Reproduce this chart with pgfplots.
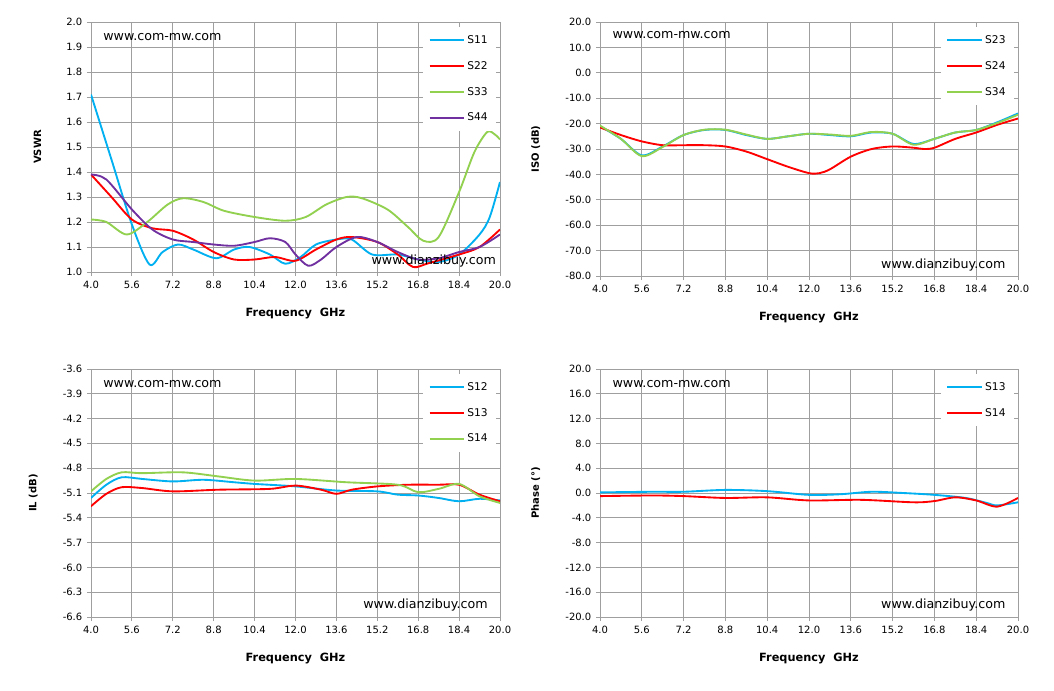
\documentclass[border=0pt]{standalone}
\usepackage{fontspec}
\setmainfont{DejaVu Sans}
\usepackage{pgfplots}
\pgfplotsset{compat=1.18}
\definecolor{cB}{HTML}{00B0F0}
\definecolor{cR}{HTML}{FF0000}
\definecolor{cG}{HTML}{92D050}
\definecolor{cP}{HTML}{7030A0}
\tikzset{wm/.style={font=\fontsize{9.5}{10}\selectfont}}
\pgfplotsset{
 panel/.style={scale only axis, anchor=north west,
  xmin=4,xmax=20, xtick={4,5.6,7.2,8.8,10.4,12,13.6,15.2,16.8,18.4,20},
  grid=major, grid style={gray!75,line width=0.7pt},
  axis line style={gray!75,line width=0.7pt},
  tick style={gray!75,line width=0.7pt}, major tick length=3pt, tick align=outside,
  xtick pos=bottom, ytick pos=left,
  ticklabel style={font=\fontsize{7.5}{8}\selectfont},
  /pgf/number format/assume math mode=true,
  /pgf/number format/.cd, fixed, fixed zerofill, precision=1, /pgfplots/.cd,
  xlabel={\textbf{Frequency\ \ GHz}}, xlabel style={font=\fontsize{8.5}{9}\selectfont, yshift=-8pt},
  ylabel style={font=\bfseries\fontsize{7.5}{8}\selectfont, yshift=12pt},
  legend style={draw=none, fill=white, font=\fontsize{8}{9}\selectfont, at={(0.99,0.98)}, anchor=north east, row sep=8pt, inner sep=4pt},
  legend cell align=left,
  legend image code/.code={\draw[#1, line width=1.4pt] (0cm,0cm) -- (0.9cm,0cm);},
  every axis plot/.append style={line width=1.4pt, smooth}}
}
\begin{document}
\begin{tikzpicture}
\path (0pt,0pt) rectangle (790.5pt,-517.5pt);
% TL
\begin{axis}[panel, at={(68.25pt,-16.5pt)}, width=306.75pt, height=187.5pt,
 ymin=1,ymax=2, ytick={1,1.1,1.2,1.3,1.4,1.5,1.6,1.7,1.8,1.9,2}, ylabel={VSWR}]
\addplot[cB] coordinates {(4,1.71)(4.8,1.45)(5.6,1.19)(6.29,1.03)(6.8,1.08)(7.4,1.11)(8,1.09)(8.9,1.055)(9.6,1.09)(10.2,1.10)(11,1.07)(11.6,1.033)(12.2,1.06)(12.8,1.11)(13.6,1.13)(14.2,1.13)(15,1.07)(16,1.07)(16.8,1.05)(17.6,1.04)(18.4,1.07)(19.2,1.15)(19.6,1.22)(20,1.36)};
\addplot[cR] coordinates {(4,1.39)(4.8,1.30)(5.6,1.21)(6.4,1.175)(7.2,1.165)(8,1.13)(8.8,1.08)(9.6,1.05)(10.4,1.05)(11.2,1.06)(12,1.045)(12.8,1.09)(13.6,1.13)(14.2,1.14)(15.2,1.12)(16,1.07)(16.6,1.02)(17.2,1.035)(18.4,1.07)(19.2,1.1)(20,1.17)};
\addplot[cG] coordinates {(4,1.21)(4.6,1.2)(5.4,1.15)(6.2,1.2)(7.0,1.27)(7.6,1.295)(8.4,1.28)(9.2,1.245)(10.4,1.22)(11.6,1.205)(12.4,1.22)(13.2,1.27)(14.0,1.30)(14.6,1.295)(15.6,1.25)(16.4,1.18)(17,1.125)(17.6,1.14)(18.4,1.32)(19.0,1.48)(19.5,1.56)(19.8,1.55)(20,1.53)};
\addplot[cP] coordinates {(4,1.39)(4.6,1.37)(5.6,1.25)(6.4,1.17)(7.2,1.13)(8.0,1.12)(8.8,1.11)(9.6,1.105)(10.4,1.12)(11.0,1.135)(11.6,1.12)(12.0,1.07)(12.5,1.025)(13.0,1.05)(13.6,1.10)(14.4,1.14)(15.2,1.12)(16,1.08)(16.8,1.05)(17.6,1.055)(18.4,1.08)(19.2,1.1)(20,1.15)};
\legend{S11,S22,S33,S44}
\node[wm,anchor=west] at (axis cs:4.3,1.94) {www.com-mw.com};
\node[wm,anchor=east,inner sep=1pt] at (axis cs:19.9,1.045) {www.dianzibuy.com};
\end{axis}
% TR
\begin{axis}[panel, at={(450pt,-16.5pt)}, width=313.5pt, height=190.5pt,
 ymin=-80,ymax=20, ytick={-80,-70,-60,-50,-40,-30,-20,-10,0,10,20}, ylabel={ISO (dB)}]
\addplot[cB] coordinates {(4,-21)(4.8,-26)(5.6,-32.5)(6.4,-29)(7.2,-24.5)(8,-22.5)(8.8,-22.5)(9.6,-24.5)(10.4,-26)(11.2,-25)(12,-24)(12.8,-24.5)(13.6,-25)(14.4,-23.5)(15.2,-24)(16,-28)(16.8,-26)(17.6,-23.5)(18.4,-22.5)(19.2,-19.5)(20,-16)};
\addplot[cR] coordinates {(4,-21.5)(4.8,-24.5)(5.6,-27)(6.4,-28.5)(7.2,-28.5)(8,-28.5)(8.8,-29)(9.6,-31)(10.4,-34)(11.2,-37)(12,-39.5)(12.4,-39.5)(12.8,-38)(13.6,-33)(14.4,-30)(15.2,-29)(16,-29.5)(16.4,-30)(16.8,-29.5)(17.6,-26)(18.4,-23.5)(19.2,-20.5)(20,-18)};
\addplot[cG] coordinates {(4,-20.8)(4.8,-26)(5.6,-32.8)(6.4,-29.2)(7.2,-24.5)(8,-22.4)(8.8,-22.4)(9.6,-24.3)(10.4,-26)(11.2,-25)(12,-24)(12.8,-24.3)(13.6,-24.8)(14.4,-23.3)(15.2,-24)(16,-28.3)(16.8,-26)(17.6,-23.5)(18.4,-22.5)(19.2,-19.8)(20,-16.5)};
\legend{S23,S24,S34}
\node[wm,anchor=west] at (axis cs:4.3,15) {www.com-mw.com};
\node[wm,anchor=east] at (axis cs:19.7,-75.5) {www.dianzibuy.com};
\end{axis}
% BL
\begin{axis}[panel, at={(68.25pt,-276.75pt)}, width=306.75pt, height=186pt,
 ymin=-6.6,ymax=-3.6, ytick={-6.6,-6.3,-6,-5.7,-5.4,-5.1,-4.8,-4.5,-4.2,-3.9,-3.6}, ylabel={IL (dB)}]
\addplot[cB] coordinates {(4,-5.16)(4.6,-5.0)(5.2,-4.91)(6,-4.93)(7.2,-4.96)(8.4,-4.94)(9.6,-4.97)(10.4,-4.99)(12,-5.02)(13.6,-5.07)(15.2,-5.08)(16,-5.12)(16.8,-5.13)(17.6,-5.16)(18.4,-5.2)(19.2,-5.17)(20,-5.19)};
\addplot[cR] coordinates {(4,-5.26)(4.6,-5.11)(5.2,-5.03)(6,-5.04)(7.2,-5.08)(9,-5.06)(11,-5.05)(12,-5.01)(13,-5.06)(13.6,-5.11)(14.2,-5.06)(15.2,-5.02)(16.4,-5.0)(17.6,-5.0)(18.4,-5.0)(19.2,-5.12)(20,-5.2)};
\addplot[cG] coordinates {(4,-5.08)(4.6,-4.93)(5.2,-4.85)(6,-4.86)(7.6,-4.85)(9,-4.9)(10.4,-4.95)(12,-4.93)(14,-4.97)(16,-5.0)(16.8,-5.09)(17.6,-5.05)(18.4,-4.99)(19.2,-5.14)(20,-5.22)};
\legend{S12,S13,S14}
\node[wm,anchor=west] at (axis cs:4.3,-3.78) {www.com-mw.com};
\node[wm,anchor=east] at (axis cs:19.7,-6.45) {www.dianzibuy.com};
\end{axis}
% BR
\begin{axis}[panel, at={(450pt,-276.75pt)}, width=313.5pt, height=186pt,
 ymin=-20,ymax=20, ytick={-20,-16,-12,-8,-4,0,4,8,12,16,20}, ylabel={Phase (°)}]
\addplot[cB] coordinates {(4,0.1)(6,0.2)(7.2,0.2)(8.8,0.5)(10.4,0.3)(12,-0.3)(13.2,-0.2)(14.4,0.2)(15.6,0)(16.8,-0.3)(18,-0.8)(18.8,-1.6)(19.2,-2)(20,-1.5)};
\addplot[cR] coordinates {(4,-0.5)(6,-0.4)(7.2,-0.5)(8.8,-0.8)(10.4,-0.7)(12,-1.2)(14,-1.1)(16,-1.5)(16.8,-1.3)(17.6,-0.7)(18.4,-1.2)(19.2,-2.2)(20,-0.8)};
\legend{S13,S14}
\node[wm,anchor=west] at (axis cs:4.3,17.6) {www.com-mw.com};
\node[wm,anchor=east] at (axis cs:19.7,-18) {www.dianzibuy.com};
\end{axis}
\end{tikzpicture}
\end{document}
